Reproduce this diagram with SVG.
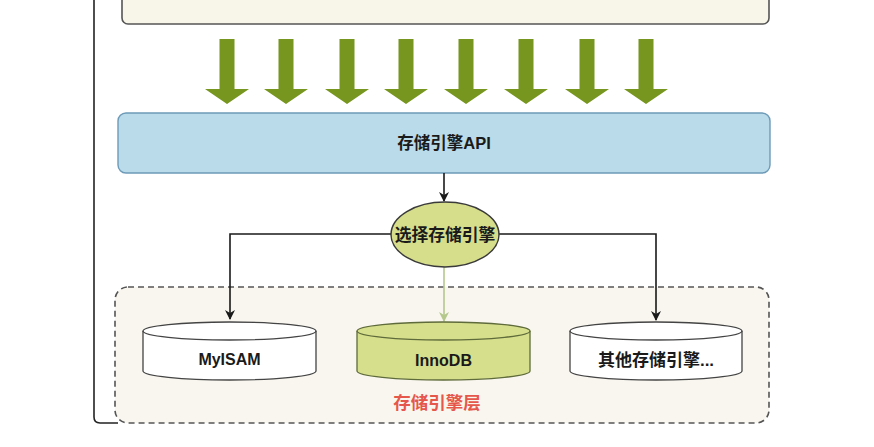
<svg xmlns="http://www.w3.org/2000/svg" width="874" height="447" viewBox="0 0 874 447">
<defs>
<style>
.t{font-family:"Liberation Sans","Noto Sans CJK SC",sans-serif;font-weight:bold;text-anchor:middle;dominant-baseline:central;fill:#1a1a1a}
.cyl{stroke-width:1.3}
.conn{fill:none;stroke:#1a1a1a;stroke-width:1.6}
.garrow{fill:#77961f}
</style>
<marker id="ah" viewBox="0 0 10 10" refX="9" refY="5" markerWidth="10" markerHeight="10" markerUnits="userSpaceOnUse" orient="auto">
<path d="M0,0 L10,5 L0,10 L3,5 Z" fill="#1a1a1a"/>
</marker>
<marker id="ahg" viewBox="0 0 10 10" refX="9" refY="5" markerWidth="10" markerHeight="10" markerUnits="userSpaceOnUse" orient="auto">
<path d="M0,0 L10,5 L0,10 L3,5 Z" fill="#b4c88c"/>
</marker>
<path id="arr" d="M-7.5,39 H7.5 V89 H22 L0,104 L-22,89 H-7.5 Z"/>
</defs>
<rect width="874" height="447" fill="#ffffff"/>
<g id="outer-frame">
<path d="M94,-2 V417 Q94,423 100,423 H118" fill="none" stroke="#222" stroke-width="1.6"/>
</g>
<g id="top-box">
<rect x="122" y="-12" width="647" height="36" rx="6" fill="#f8f5e9" stroke="#555" stroke-width="1.6"/>
</g>
<g id="green-arrows" class="garrow">
<use href="#arr" x="227"/>
<use href="#arr" x="286"/>
<use href="#arr" x="347"/>
<use href="#arr" x="406"/>
<use href="#arr" x="466"/>
<use href="#arr" x="526"/>
<use href="#arr" x="587"/>
<use href="#arr" x="646"/>
</g>
<g id="api">
<rect x="118" y="113" width="652" height="60" rx="8" fill="#badbe9" stroke="#6e9bb8" stroke-width="1.4"/>
<text class="t" x="444" y="143" font-size="16.5">存储引擎API</text>
</g>
<g id="layer">
<rect x="115" y="287" width="654" height="136" rx="13" fill="#f8f6ee" stroke="#555" stroke-width="1.6" stroke-dasharray="6 4"/>
<text class="t" x="437" y="403" font-size="17.5" style="fill:#e6574b">存储引擎层</text>
</g>
<g id="connectors">
<path class="conn" d="M444,173 V201" marker-end="url(#ah)"/>
<path class="conn" d="M391,234 H230 V319" marker-end="url(#ah)"/>
<path class="conn" d="M499,234 H656 V320" marker-end="url(#ah)"/>
<path d="M444,267 V321" fill="none" stroke="#b4c88c" stroke-width="1.6" marker-end="url(#ahg)"/>
</g>
<g id="select">
<ellipse cx="445" cy="234.5" rx="54" ry="32.5" fill="#d6de8c" stroke="#3a3a3a" stroke-width="1.5"/>
<text class="t" x="445" y="235" font-size="16.8">选择存储引擎</text>
</g>
<g id="myisam">
<path class="cyl" d="M143,331 A86.5,9 0 0 1 316,331 V371 A86.5,9 0 0 1 143,371 Z" fill="#ffffff" stroke="#444"/>
<path class="cyl" d="M143,331 A86.5,9 0 0 0 316,331" fill="none" stroke="#444"/>
<text class="t" x="229.5" y="359" font-size="16">MyISAM</text>
</g>
<g id="innodb">
<path class="cyl" d="M357,331 A86.5,9 0 0 1 530,331 V371 A86.5,9 0 0 1 357,371 Z" fill="#d6df8c" stroke="#5f6b3a"/>
<path class="cyl" d="M357,331 A86.5,9 0 0 0 530,331" fill="none" stroke="#5f6b3a"/>
<text class="t" x="443.5" y="360" font-size="16">InnoDB</text>
</g>
<g id="other">
<path class="cyl" d="M570,331 A86,9 0 0 1 742,331 V371 A86,9 0 0 1 570,371 Z" fill="#ffffff" stroke="#444"/>
<path class="cyl" d="M570,331 A86,9 0 0 0 742,331" fill="none" stroke="#444"/>
<text class="t" x="656" y="360" font-size="17">其他存储引擎...</text>
</g>
</svg>
